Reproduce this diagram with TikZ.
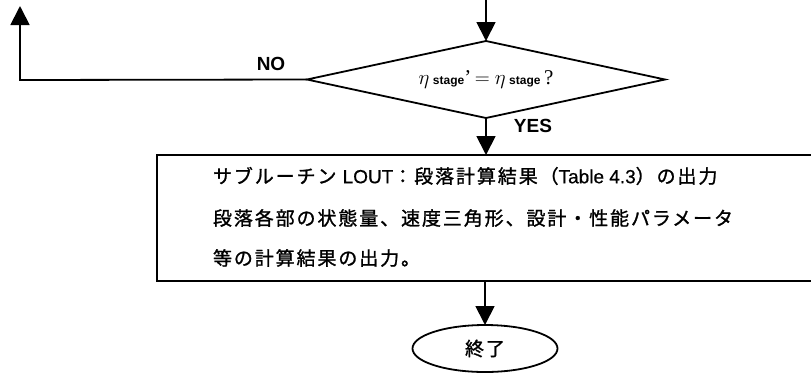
\documentclass[tikz,border=0pt]{standalone}
\usepackage{fontspec}
\setmainfont{Liberation Serif}
\setsansfont{Liberation Sans}
\newfontfamily\jpf[LetterSpace=10,FakeBold=1.2]{Noto Sans CJK JP}
\newfontfamily\latf[FakeBold=0.6]{Liberation Sans}
\usetikzlibrary{shapes.geometric,arrows.meta}
\newcommand{\stg}{{\fontsize{12}{14}\selectfont\sffamily\bfseries stage}}
\begin{document}
\begin{tikzpicture}[x=1pt,y=-1pt,line width=1.8pt,
  >={Triangle[width=19pt,length=19pt]},
  every node/.style={inner sep=0pt,outer sep=0pt},
  decision/.style={diamond,draw,aspect=4.65,minimum width=358pt,minimum height=77pt},
  procbox/.style={rectangle,draw,minimum width=657pt,minimum height=126pt},
  endnode/.style={ellipse,draw,minimum width=145pt,minimum height=47pt},
  jptext/.style={anchor=west,font=\fontsize{19}{22}\selectfont\jpf},
  yesno/.style={font=\fontsize{19}{22}\selectfont\sffamily\bfseries}]
\useasboundingbox (0,0) rectangle (811,373);
\node[decision] (dec) at (486,79.5) {\fontsize{21}{24}\selectfont$\eta$\,\stg\textquoteright\,$=$\ $\eta$\,\stg\,?};
\coordinate (topin) at (486,0);
\draw[->] (topin) -- (dec.north);
\coordinate (nocorner) at (20,80);
\coordinate (noend) at (20,6);
\draw[->] (dec.west) -- (nocorner) -- (noend);
\node[yesno] (no) at (271,64) {NO};
\node[yesno] (yes) at (533,126) {YES};
\node[procbox] (box) at (485.5,218) {};
\draw[->] (dec.south) -- (box.north -| dec.south);
\node[jptext] (l1) at (213,176) {サブルーチン {\latf LOUT}：段落計算結果（{\latf Table 4.3}）の出力};
\node[jptext] (l2) at (213,218) {段落各部の状態量、速度三角形、設計・性能パラメータ};
\node[jptext] (l3) at (213,258) {等の計算結果の出力。};
\node[endnode] (end) at (485,348.5) {\fontsize{19}{22}\selectfont\jpf 終了};
\draw[->] (box.south -| end.north) -- (end.north);
\end{tikzpicture}
\end{document}
